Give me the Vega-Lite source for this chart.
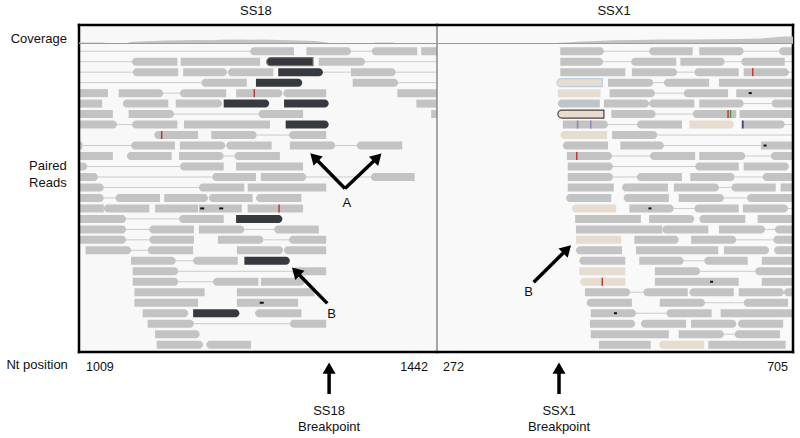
{
"$schema": "https://vega.github.io/schema/vega-lite/v6.json",
"width": 800, "height": 438,
"autosize": {"type": "fit", "contains": "padding"},
"padding": 0,
"background": "white",
"config": {"view": {"stroke": null}, "font": "Liberation Sans", "axis": {"disable": true}, "scale": {"continuousPadding": 0}},
"datasets": {
"readsL": [
{"row":0,"s":1216,"e":1269,"d":"L","c":"g"},{"row":0,"s":1284,"e":1338,"d":"R","c":"g"},{"row":0,"s":1363,"e":1418,"d":"L","c":"g"},{"row":0,"s":1423,"e":1442,"d":"N","c":"g"},
{"row":1,"s":1073,"e":1128,"d":"L","c":"g"},{"row":1,"s":1132,"e":1228,"d":"N","c":"g"},{"row":1,"s":1236,"e":1292,"d":"L","c":"do"},{"row":1,"s":1299,"e":1355,"d":"R","c":"g"},
{"row":2,"s":1074,"e":1129,"d":"L","c":"g"},{"row":2,"s":1135,"e":1188,"d":"R","c":"g"},{"row":2,"s":1189,"e":1244,"d":"L","c":"g"},{"row":2,"s":1250,"e":1304,"d":"R","c":"d"},{"row":2,"s":1338,"e":1392,"d":"R","c":"g"},
{"row":3,"s":1157,"e":1212,"d":"L","c":"g"},{"row":3,"s":1223,"e":1279,"d":"R","c":"d"},{"row":3,"s":1340,"e":1395,"d":"R","c":"g"},
{"row":4,"s":1009,"e":1044,"d":"N","c":"g"},{"row":4,"s":1057,"e":1111,"d":"R","c":"g"},{"row":4,"s":1131,"e":1187,"d":"L","c":"g"},{"row":4,"s":1199,"e":1255,"d":"R","c":"g"},{"row":4,"s":1256,"e":1308,"d":"L","c":"g"},{"row":4,"s":1394,"e":1442,"d":"N","c":"g"},
{"row":5,"s":1009,"e":1037,"d":"N","c":"g"},{"row":5,"s":1062,"e":1117,"d":"L","c":"g"},{"row":5,"s":1126,"e":1182,"d":"R","c":"g"},{"row":5,"s":1184,"e":1239,"d":"R","c":"d"},{"row":5,"s":1257,"e":1311,"d":"R","c":"d"},{"row":5,"s":1417,"e":1442,"d":"N","c":"g"},
{"row":6,"s":1009,"e":1050,"d":"N","c":"g"},{"row":6,"s":1069,"e":1124,"d":"R","c":"g"},{"row":6,"s":1226,"e":1280,"d":"L","c":"g"},{"row":6,"s":1435,"e":1442,"d":"N","c":"g"},
{"row":7,"s":1009,"e":1055,"d":"R","c":"g"},{"row":7,"s":1073,"e":1128,"d":"L","c":"g"},{"row":7,"s":1136,"e":1240,"d":"N","c":"g"},{"row":7,"s":1259,"e":1311,"d":"R","c":"d"},
{"row":8,"s":1100,"e":1153,"d":"L","c":"g"},{"row":8,"s":1169,"e":1224,"d":"R","c":"g"},{"row":8,"s":1263,"e":1308,"d":"L","c":"g"},
{"row":9,"s":1009,"e":1013,"d":"R","c":"g"},{"row":9,"s":1072,"e":1125,"d":"L","c":"g"},{"row":9,"s":1131,"e":1186,"d":"R","c":"g"},{"row":9,"s":1187,"e":1242,"d":"L","c":"g"},{"row":9,"s":1264,"e":1319,"d":"R","c":"g"},{"row":9,"s":1345,"e":1400,"d":"L","c":"g"},
{"row":10,"s":1009,"e":1050,"d":"N","c":"g"},{"row":10,"s":1067,"e":1121,"d":"L","c":"g"},{"row":10,"s":1130,"e":1184,"d":"R","c":"g"},{"row":10,"s":1197,"e":1252,"d":"L","c":"g"},
{"row":11,"s":1009,"e":1019,"d":"R","c":"g"},{"row":11,"s":1131,"e":1184,"d":"L","c":"g"},{"row":11,"s":1199,"e":1280,"d":"N","c":"g"},
{"row":12,"s":1009,"e":1032,"d":"R","c":"g"},{"row":12,"s":1170,"e":1223,"d":"L","c":"g"},{"row":12,"s":1229,"e":1284,"d":"R","c":"g"},{"row":12,"s":1362,"e":1415,"d":"L","c":"g"},
{"row":13,"s":1009,"e":1039,"d":"R","c":"g"},{"row":13,"s":1154,"e":1209,"d":"L","c":"g"},{"row":13,"s":1213,"e":1308,"d":"N","c":"g"},
{"row":14,"s":1009,"e":1039,"d":"R","c":"g"},{"row":14,"s":1053,"e":1107,"d":"L","c":"g"},{"row":14,"s":1112,"e":1165,"d":"R","c":"g"},{"row":14,"s":1166,"e":1219,"d":"L","c":"g"},{"row":14,"s":1223,"e":1278,"d":"L","c":"g"},
{"row":15,"s":1009,"e":1039,"d":"N","c":"g"},{"row":15,"s":1039,"e":1094,"d":"L","c":"g"},{"row":15,"s":1101,"e":1153,"d":"N","c":"g"},{"row":15,"s":1154,"e":1206,"d":"N","c":"g"},{"row":15,"s":1213,"e":1280,"d":"N","c":"g"},
{"row":16,"s":1009,"e":1066,"d":"R","c":"g"},{"row":16,"s":1130,"e":1184,"d":"L","c":"g"},{"row":16,"s":1199,"e":1255,"d":"R","c":"d"},
{"row":17,"s":1009,"e":1066,"d":"R","c":"g"},{"row":17,"s":1094,"e":1148,"d":"L","c":"g"},{"row":17,"s":1154,"e":1209,"d":"R","c":"g"},{"row":17,"s":1245,"e":1299,"d":"L","c":"g"},
{"row":18,"s":1009,"e":1066,"d":"R","c":"g"},{"row":18,"s":1094,"e":1148,"d":"L","c":"g"},{"row":18,"s":1177,"e":1232,"d":"R","c":"g"},{"row":18,"s":1263,"e":1308,"d":"L","c":"g"},
{"row":19,"s":1017,"e":1072,"d":"R","c":"g"},{"row":19,"s":1092,"e":1147,"d":"L","c":"g"},{"row":19,"s":1200,"e":1256,"d":"R","c":"g"},{"row":19,"s":1257,"e":1308,"d":"L","c":"g"},
{"row":20,"s":1072,"e":1126,"d":"R","c":"g"},{"row":20,"s":1147,"e":1201,"d":"L","c":"g"},{"row":20,"s":1209,"e":1264,"d":"R","c":"d"},
{"row":21,"s":1074,"e":1129,"d":"R","c":"g"},{"row":21,"s":1267,"e":1308,"d":"L","c":"g"},
{"row":22,"s":1074,"e":1129,"d":"R","c":"g"},{"row":22,"s":1171,"e":1226,"d":"L","c":"g"},{"row":22,"s":1229,"e":1282,"d":"R","c":"g"},
{"row":23,"s":1076,"e":1161,"d":"N","c":"g"},{"row":23,"s":1200,"e":1294,"d":"N","c":"g"},
{"row":24,"s":1076,"e":1153,"d":"N","c":"g"},{"row":24,"s":1200,"e":1274,"d":"N","c":"g"},
{"row":25,"s":1086,"e":1141,"d":"R","c":"g"},{"row":25,"s":1147,"e":1203,"d":"R","c":"d"},{"row":25,"s":1222,"e":1278,"d":"L","c":"g"},
{"row":26,"s":1092,"e":1148,"d":"R","c":"g"},{"row":26,"s":1264,"e":1308,"d":"L","c":"g"},
{"row":27,"s":1101,"e":1155,"d":"R","c":"g"},
{"row":28,"s":1103,"e":1159,"d":"R","c":"g"},{"row":28,"s":1163,"e":1217,"d":"L","c":"g"}
],
"linesL": [
{"row":0,"s":1009,"e":1216},{"row":0,"s":1338,"e":1363},{"row":1,"s":1009,"e":1073},{"row":1,"s":1355,"e":1442},
{"row":2,"s":1009,"e":1074},{"row":2,"s":1304,"e":1338},{"row":2,"s":1392,"e":1442},{"row":3,"s":1009,"e":1157},{"row":3,"s":1395,"e":1442},
{"row":4,"s":1111,"e":1131},{"row":6,"s":1124,"e":1226},{"row":7,"s":1055,"e":1073},{"row":8,"s":1224,"e":1263},
{"row":9,"s":1013,"e":1072},{"row":9,"s":1319,"e":1345},{"row":10,"s":1184,"e":1197},{"row":11,"s":1019,"e":1131},
{"row":12,"s":1032,"e":1170},{"row":12,"s":1284,"e":1362},{"row":13,"s":1039,"e":1154},{"row":14,"s":1039,"e":1053},
{"row":16,"s":1066,"e":1130},{"row":17,"s":1066,"e":1094},{"row":17,"s":1209,"e":1245},{"row":18,"s":1066,"e":1094},{"row":18,"s":1232,"e":1263},
{"row":19,"s":1072,"e":1092},{"row":20,"s":1126,"e":1147},{"row":21,"s":1129,"e":1267},{"row":22,"s":1129,"e":1171},{"row":26,"s":1148,"e":1264}
],
"mmL": [
{"row":4,"s":1221,"m":"r"},{"row":8,"s":1109,"m":"r"},{"row":15,"s":1158,"m":"k"},{"row":15,"s":1181,"m":"k"},{"row":15,"s":1251,"m":"r"},{"row":24,"s":1230,"m":"k"}
],
"readsR": [
{"row":0,"s":422,"e":475,"d":"R","c":"g"},{"row":0,"s":530,"e":583,"d":"L","c":"g"},{"row":0,"s":591,"e":645,"d":"R","c":"g"},{"row":0,"s":688,"e":705,"d":"L","c":"g"},
{"row":1,"s":422,"e":474,"d":"R","c":"g"},{"row":1,"s":508,"e":563,"d":"L","c":"g"},{"row":1,"s":568,"e":622,"d":"R","c":"g"},{"row":1,"s":642,"e":695,"d":"L","c":"g"},
{"row":2,"s":422,"e":501,"d":"N","c":"g"},{"row":2,"s":509,"e":564,"d":"R","c":"g"},{"row":2,"s":585,"e":639,"d":"L","c":"g"},{"row":2,"s":645,"e":700,"d":"R","c":"g"},
{"row":3,"s":418,"e":473,"d":"L","c":"bs"},{"row":3,"s":480,"e":535,"d":"R","c":"g"},{"row":3,"s":548,"e":603,"d":"L","c":"g"},{"row":3,"s":615,"e":705,"d":"N","c":"g"},
{"row":4,"s":419,"e":471,"d":"N","c":"b"},{"row":4,"s":482,"e":537,"d":"R","c":"g"},{"row":4,"s":572,"e":626,"d":"L","c":"g"},{"row":4,"s":636,"e":705,"d":"N","c":"g"},
{"row":5,"s":419,"e":470,"d":"L","c":"s"},{"row":5,"s":475,"e":530,"d":"R","c":"g"},{"row":5,"s":530,"e":585,"d":"L","c":"g"},{"row":5,"s":591,"e":645,"d":"R","c":"g"},{"row":5,"s":679,"e":705,"d":"L","c":"g"},
{"row":6,"s":419,"e":475,"d":"L","c":"bo"},{"row":6,"s":484,"e":538,"d":"R","c":"g"},{"row":6,"s":583,"e":636,"d":"L","c":"g"},{"row":6,"s":640,"e":705,"d":"N","c":"g"},
{"row":7,"s":425,"e":480,"d":"R","c":"g"},{"row":7,"s":515,"e":570,"d":"L","c":"g"},{"row":7,"s":579,"e":633,"d":"R","c":"b"},{"row":7,"s":642,"e":695,"d":"R","c":"g"},
{"row":8,"s":422,"e":479,"d":"L","c":"b"},{"row":8,"s":485,"e":540,"d":"R","c":"g"},
{"row":9,"s":425,"e":480,"d":"L","c":"g"},{"row":9,"s":495,"e":548,"d":"R","c":"g"},{"row":9,"s":666,"e":705,"d":"N","c":"g"},
{"row":10,"s":430,"e":485,"d":"R","c":"g"},{"row":10,"s":531,"e":586,"d":"L","c":"g"},{"row":10,"s":591,"e":647,"d":"R","c":"g"},{"row":10,"s":678,"e":705,"d":"L","c":"g"},
{"row":11,"s":431,"e":486,"d":"R","c":"g"},{"row":11,"s":586,"e":639,"d":"L","c":"g"},{"row":11,"s":645,"e":700,"d":"R","c":"g"},
{"row":12,"s":431,"e":486,"d":"R","c":"g"},{"row":12,"s":515,"e":570,"d":"L","c":"g"},{"row":12,"s":580,"e":634,"d":"R","c":"g"},{"row":12,"s":668,"e":705,"d":"L","c":"g"},
{"row":13,"s":431,"e":487,"d":"N","c":"g"},{"row":13,"s":497,"e":553,"d":"L","c":"g"},{"row":13,"s":560,"e":615,"d":"R","c":"g"},{"row":13,"s":630,"e":684,"d":"L","c":"g"},{"row":13,"s":690,"e":705,"d":"N","c":"g"},
{"row":14,"s":429,"e":484,"d":"L","c":"s"},{"row":14,"s":499,"e":554,"d":"L","c":"g"},{"row":14,"s":566,"e":621,"d":"R","c":"g"},{"row":14,"s":649,"e":705,"d":"L","c":"g"},
{"row":15,"s":436,"e":490,"d":"L","c":"b"},{"row":15,"s":506,"e":560,"d":"R","c":"g"},{"row":15,"s":585,"e":639,"d":"L","c":"g"},{"row":15,"s":644,"e":699,"d":"R","c":"g"},
{"row":16,"s":440,"e":520,"d":"N","c":"g"},{"row":16,"s":530,"e":585,"d":"R","c":"g"},{"row":16,"s":591,"e":647,"d":"L","c":"g"},{"row":16,"s":662,"e":705,"d":"N","c":"g"},
{"row":17,"s":441,"e":546,"d":"N","c":"g"},{"row":17,"s":546,"e":602,"d":"L","c":"g"},{"row":17,"s":615,"e":671,"d":"R","c":"g"},{"row":17,"s":683,"e":705,"d":"L","c":"g"},
{"row":18,"s":441,"e":496,"d":"N","c":"b"},{"row":18,"s":512,"e":566,"d":"R","c":"g"},{"row":18,"s":581,"e":636,"d":"R","c":"g"},{"row":18,"s":681,"e":705,"d":"L","c":"g"},
{"row":19,"s":441,"e":497,"d":"L","c":"g"},{"row":19,"s":514,"e":614,"d":"N","c":"g"},{"row":19,"s":621,"e":676,"d":"R","c":"g"},{"row":19,"s":682,"e":705,"d":"L","c":"g"},
{"row":20,"s":445,"e":501,"d":"L","c":"g"},{"row":20,"s":518,"e":572,"d":"R","c":"g"},{"row":20,"s":597,"e":650,"d":"L","c":"g"},{"row":20,"s":667,"e":705,"d":"N","c":"g"},
{"row":21,"s":445,"e":501,"d":"N","c":"b"},{"row":21,"s":537,"e":592,"d":"R","c":"g"},{"row":21,"s":659,"e":705,"d":"L","c":"g"},
{"row":22,"s":446,"e":501,"d":"L","c":"b"},{"row":22,"s":537,"e":639,"d":"N","c":"g"},{"row":22,"s":667,"e":705,"d":"N","c":"g"},
{"row":23,"s":452,"e":507,"d":"R","c":"g"},{"row":23,"s":523,"e":577,"d":"L","c":"g"},{"row":23,"s":579,"e":633,"d":"L","c":"g"},{"row":23,"s":639,"e":694,"d":"R","c":"g"},{"row":23,"s":694,"e":705,"d":"L","c":"g"},
{"row":24,"s":454,"e":509,"d":"L","c":"g"},{"row":24,"s":543,"e":598,"d":"R","c":"g"},{"row":24,"s":645,"e":699,"d":"L","c":"g"},
{"row":25,"s":459,"e":514,"d":"R","c":"g"},{"row":25,"s":551,"e":606,"d":"L","c":"g"},{"row":25,"s":617,"e":705,"d":"N","c":"g"},
{"row":26,"s":458,"e":513,"d":"R","c":"g"},{"row":26,"s":520,"e":575,"d":"L","c":"g"},{"row":26,"s":581,"e":636,"d":"R","c":"g"},{"row":26,"s":638,"e":693,"d":"L","c":"g"},
{"row":27,"s":459,"e":554,"d":"N","c":"g"},{"row":27,"s":566,"e":621,"d":"R","c":"g"},{"row":27,"s":634,"e":689,"d":"L","c":"g"},
{"row":28,"s":469,"e":532,"d":"N","c":"g"},{"row":28,"s":542,"e":597,"d":"L","c":"b"},{"row":28,"s":602,"e":696,"d":"N","c":"g"}
],
"linesR": [
{"row":0,"s":475,"e":530},{"row":0,"s":645,"e":688},{"row":1,"s":474,"e":508},{"row":1,"s":622,"e":642},{"row":1,"s":695,"e":705},
{"row":2,"s":564,"e":585},{"row":2,"s":700,"e":705},{"row":3,"s":535,"e":548},{"row":4,"s":537,"e":572},{"row":5,"s":645,"e":679},
{"row":6,"s":538,"e":583},{"row":7,"s":480,"e":515},{"row":7,"s":695,"e":705},{"row":8,"s":540,"e":705},{"row":9,"s":548,"e":666},
{"row":10,"s":485,"e":531},{"row":10,"s":647,"e":678},{"row":11,"s":486,"e":586},{"row":12,"s":486,"e":515},{"row":12,"s":634,"e":668},
{"row":13,"s":615,"e":630},{"row":14,"s":621,"e":649},{"row":15,"s":560,"e":585},{"row":15,"s":699,"e":705},{"row":17,"s":671,"e":683},
{"row":18,"s":636,"e":681},{"row":20,"s":572,"e":597},{"row":21,"s":592,"e":659},{"row":23,"s":507,"e":523},{"row":24,"s":598,"e":645},
{"row":25,"s":514,"e":551},{"row":27,"s":621,"e":634}
],
"mmR": [
{"row":2,"s":656,"m":"r"},{"row":4,"s":653,"m":"k"},{"row":6,"s":626,"m":"r"},{"row":6,"s":629,"m":"gr"},{"row":7,"s":443,"m":"p"},{"row":7,"s":459,"m":"p"},{"row":7,"s":644,"m":"pd"},
{"row":9,"s":671,"m":"k"},{"row":10,"s":442,"m":"r"},{"row":15,"s":531,"m":"k"},{"row":22,"s":473,"m":"r"},{"row":22,"s":606,"m":"k"},{"row":25,"s":489,"m":"k"}
],
"covL": [
{"s":1009,"v":5},{"s":1025,"v":6},{"s":1038,"v":5},{"s":1044,"v":1},{"s":1066,"v":1},{"s":1071,"v":8},{"s":1089,"v":12},{"s":1100,"v":14},{"s":1113,"v":16},{"s":1135,"v":17},{"s":1155,"v":19},{"s":1170,"v":18},{"s":1180,"v":20},{"s":1204,"v":21},{"s":1218,"v":20},{"s":1230,"v":21},{"s":1252,"v":19},{"s":1265,"v":18},{"s":1276,"v":16},{"s":1294,"v":13},{"s":1305,"v":8},{"s":1312,"v":3},{"s":1319,"v":0},{"s":1363,"v":0},{"s":1367,"v":5},{"s":1389,"v":5},{"s":1392,"v":0},{"s":1442,"v":0}
],
"covR": [
{"s":272,"v":0},{"s":417,"v":0},{"s":420,"v":4},{"s":430,"v":6},{"s":446,"v":11},{"s":466,"v":14},{"s":486,"v":17},{"s":510,"v":19},{"s":530,"v":20},{"s":543,"v":21},{"s":575,"v":22},{"s":590,"v":21},{"s":608,"v":23},{"s":640,"v":25},{"s":665,"v":27},{"s":680,"v":32},{"s":689,"v":36},{"s":697,"v":38},{"s":705,"v":38}
]
},
"layer": [
{
"encoding": {
"x": {"field": "s", "type": "quantitative", "axis": null, "scale": {"domain": [1009, 1442], "range": [79, 437], "nice": false, "zero": false, "padding": 0}},
"y": {"field": "row", "type": "quantitative", "axis": null, "scale": {"domain": [-2.5, 28.7], "range": [25, 352], "nice": false, "zero": false, "padding": 0}}
},
"layer": [
{"data": {"values": [{"s": 1009, "e": 1442, "row": -2.5, "row2": 28.7}]}, "mark": {"type": "rect", "fill": "#f8f8f8"}, "encoding": {"x2": {"field": "e"}, "y2": {"field": "row2"}}},
{"data": {"name": "linesL"}, "mark": {"type": "rule", "color": "#cbcbcb", "strokeWidth": 1}, "encoding": {"x2": {"field": "e"}}},
{"data": {"name": "readsL"}, "transform": [{"filter": "datum.d == 'N'"}], "mark": {"type": "bar", "orient": "horizontal", "size": 8, "strokeWidth": 1.2},
 "encoding": {"x2": {"field": "e"}, "fill": {"field": "c", "type": "nominal", "legend": null, "scale": {"domain": ["g","d","do","b","bs","bo","s"], "range": ["#c3c3c3","#363a40","#363a40","#e6ddd0","#e6ddd0","#e6ddd0","#c0c4c9"]}}, "stroke": {"field": "c", "type": "nominal", "legend": null, "scale": {"domain": ["g","d","do","b","bs","bo","s"], "range": ["transparent","transparent","#8c6d4f","transparent","#b9cde0","#4e4036","transparent"]}}}},
{"data": {"name": "readsL"}, "transform": [{"filter": "datum.d == 'R'"}], "mark": {"type": "bar", "orient": "horizontal", "size": 8, "strokeWidth": 1.2, "cornerRadiusTopRight": 4, "cornerRadiusBottomRight": 4},
 "encoding": {"x2": {"field": "e"}, "fill": {"field": "c", "type": "nominal", "legend": null}, "stroke": {"field": "c", "type": "nominal", "legend": null}}},
{"data": {"name": "readsL"}, "transform": [{"filter": "datum.d == 'L'"}], "mark": {"type": "bar", "orient": "horizontal", "size": 8, "strokeWidth": 1.2, "cornerRadiusTopLeft": 4, "cornerRadiusBottomLeft": 4},
 "encoding": {"x2": {"field": "e"}, "fill": {"field": "c", "type": "nominal", "legend": null}, "stroke": {"field": "c", "type": "nominal", "legend": null}}},
{"data": {"name": "mmL"}, "transform": [{"filter": "datum.m != 'k'"}], "mark": {"type": "tick", "orient": "vertical", "size": 8, "thickness": 1.5, "opacity": 1},
 "encoding": {"color": {"field": "m", "type": "nominal", "legend": null, "scale": {"domain": ["r","p","pd","gr"], "range": ["#c8372d","#8f7fc4","#4b2d7f","#4f9a4f"]}}}},
{"data": {"name": "mmL"}, "transform": [{"filter": "datum.m == 'k'"}], "mark": {"type": "tick", "orient": "horizontal", "size": 4, "thickness": 2, "color": "#111111", "opacity": 1}},
{"data": {"values": [{"s": 1009, "e": 1442, "row": -2.5, "row2": -2.5}, {"s": 1009, "e": 1442, "row": 28.7, "row2": 28.7}, {"s": 1009, "e": 1009, "row": -2.5, "row2": 28.7}]},
 "mark": {"type": "rule", "color": "#000000", "strokeWidth": 2.5, "strokeCap": "square"}, "encoding": {"x2": {"field": "e"}, "y2": {"field": "row2"}}},
{"data": {"values": [{"s": 1330.7, "row": 13.1, "e": 1293.5, "row2": 10.11, "ang": -45}, {"s": 1330.7, "row": 13.1, "e": 1370.0, "row2": 10.14, "ang": 45}, {"s": 1309.3, "row": 24.06, "e": 1271.4, "row2": 21.02, "ang": -45}, {"s": 1311.5, "row": 32.71, "e": 1311.5, "row2": 30.23, "ang": 0}]},
 "layer": [
  {"mark": {"type": "rule", "color": "#000000", "strokeWidth": 3.5}, "encoding": {"x2": {"field": "e"}, "y2": {"field": "row2"}}},
  {"mark": {"type": "point", "shape": "M0,-0.86L1,0.86L-1,0.86Z", "size": 169, "filled": true, "color": "#000000", "opacity": 1},
   "encoding": {"x": {"field": "e", "type": "quantitative", "axis": null, "scale": {"domain": [1009, 1442], "range": [79, 437], "nice": false, "zero": false, "padding": 0}},
    "y": {"field": "row2", "type": "quantitative", "axis": null, "scale": {"domain": [-2.5, 28.7], "range": [25, 352], "nice": false, "zero": false, "padding": 0}},
    "angle": {"field": "ang", "type": "quantitative", "scale": null}}}
 ]},
{"data": {"values": [{"s": 1223, "row": -3.88, "t": "SS18"}, {"s": 1333, "row": 14.48, "t": "A"}, {"s": 1314.6, "row": 25.08, "t": "B"}, {"s": 1311.5, "row": 34.33, "t": "SS18"}, {"s": 1311.5, "row": 35.86, "t": "Breakpoint"}]},
 "mark": {"type": "text", "align": "center", "baseline": "middle", "fontSize": 13, "color": "#111111"}, "encoding": {"text": {"field": "t"}}},
{"data": {"values": [{"s": 994.5, "row": -1.12, "t": "Coverage"}, {"s": 994.1, "row": 11.0, "t": "Paired"}, {"s": 994.1, "row": 12.6, "t": "Reads"}, {"s": 995.5, "row": 29.94, "t": "Nt position"}]},
 "mark": {"type": "text", "align": "right", "baseline": "middle", "fontSize": 13, "color": "#111111"}, "encoding": {"text": {"field": "t"}}},
{"data": {"values": [{"s": 1009, "row": 30.1, "t": "1009"}]}, "mark": {"type": "text", "align": "left", "dx": 7, "baseline": "middle", "fontSize": 12.5, "color": "#111111"}, "encoding": {"text": {"field": "t"}}},
{"data": {"values": [{"s": 1442, "row": 30.1, "t": "1442"}]}, "mark": {"type": "text", "align": "right", "dx": -9, "baseline": "middle", "fontSize": 12.5, "color": "#111111"}, "encoding": {"text": {"field": "t"}}}
]
},
{
"encoding": {
"x": {"field": "s", "type": "quantitative", "axis": null, "scale": {"domain": [272, 705], "range": [437, 793], "nice": false, "zero": false, "padding": 0}},
"y": {"field": "row", "type": "quantitative", "axis": null, "scale": {"domain": [-2.5, 28.7], "range": [25, 352], "nice": false, "zero": false, "padding": 0}}
},
"layer": [
{"data": {"values": [{"s": 272, "e": 705, "row": -2.5, "row2": 28.7}]}, "mark": {"type": "rect", "fill": "#f9f9f9"}, "encoding": {"x2": {"field": "e"}, "y2": {"field": "row2"}}},
{"data": {"name": "linesR"}, "mark": {"type": "rule", "color": "#cbcbcb", "strokeWidth": 1}, "encoding": {"x2": {"field": "e"}}},
{"data": {"name": "readsR"}, "transform": [{"filter": "datum.d == 'N'"}], "mark": {"type": "bar", "orient": "horizontal", "size": 8, "strokeWidth": 1.2},
 "encoding": {"x2": {"field": "e"}, "fill": {"field": "c", "type": "nominal", "legend": null}, "stroke": {"field": "c", "type": "nominal", "legend": null}}},
{"data": {"name": "readsR"}, "transform": [{"filter": "datum.d == 'R'"}], "mark": {"type": "bar", "orient": "horizontal", "size": 8, "strokeWidth": 1.2, "cornerRadiusTopRight": 4, "cornerRadiusBottomRight": 4},
 "encoding": {"x2": {"field": "e"}, "fill": {"field": "c", "type": "nominal", "legend": null}, "stroke": {"field": "c", "type": "nominal", "legend": null}}},
{"data": {"name": "readsR"}, "transform": [{"filter": "datum.d == 'L'"}], "mark": {"type": "bar", "orient": "horizontal", "size": 8, "strokeWidth": 1.2, "cornerRadiusTopLeft": 4, "cornerRadiusBottomLeft": 4},
 "encoding": {"x2": {"field": "e"}, "fill": {"field": "c", "type": "nominal", "legend": null}, "stroke": {"field": "c", "type": "nominal", "legend": null}}},
{"data": {"name": "mmR"}, "transform": [{"filter": "datum.m != 'k'"}], "mark": {"type": "tick", "orient": "vertical", "size": 8, "thickness": 1.5, "opacity": 1},
 "encoding": {"color": {"field": "m", "type": "nominal", "legend": null}}},
{"data": {"name": "mmR"}, "transform": [{"filter": "datum.m == 'k'"}], "mark": {"type": "tick", "orient": "horizontal", "size": 3, "thickness": 2, "color": "#111111", "opacity": 1}},
{"data": {"values": [{"s": 272, "e": 272, "row": -2.5, "row2": 28.7}]}, "mark": {"type": "rule", "color": "#8a8a8a", "strokeWidth": 1.5}, "encoding": {"x2": {"field": "e"}, "y2": {"field": "row2"}}},
{"data": {"values": [{"s": 272, "e": 705, "row": -2.5, "row2": -2.5}, {"s": 272, "e": 705, "row": 28.7, "row2": 28.7}, {"s": 705, "e": 705, "row": -2.5, "row2": 28.7}]},
 "mark": {"type": "rule", "color": "#000000", "strokeWidth": 2.5, "strokeCap": "square"}, "encoding": {"x2": {"field": "e"}, "y2": {"field": "row2"}}},
{"data": {"values": [{"s": 389.6, "row": 22.05, "e": 430.2, "row2": 18.89, "ang": 45}, {"s": 420.4, "row": 32.71, "e": 420.4, "row2": 30.23, "ang": 0}]},
 "layer": [
  {"mark": {"type": "rule", "color": "#000000", "strokeWidth": 3.5}, "encoding": {"x2": {"field": "e"}, "y2": {"field": "row2"}}},
  {"mark": {"type": "point", "shape": "M0,-0.86L1,0.86L-1,0.86Z", "size": 169, "filled": true, "color": "#000000", "opacity": 1},
   "encoding": {"x": {"field": "e", "type": "quantitative", "axis": null, "scale": {"domain": [272, 705], "range": [437, 793], "nice": false, "zero": false, "padding": 0}},
    "y": {"field": "row2", "type": "quantitative", "axis": null, "scale": {"domain": [-2.5, 28.7], "range": [25, 352], "nice": false, "zero": false, "padding": 0}},
    "angle": {"field": "ang", "type": "quantitative", "scale": null}}}
 ]},
{"data": {"values": [{"s": 487.3, "row": -3.88, "t": "SSX1"}, {"s": 383.5, "row": 22.95, "t": "B"}, {"s": 420.4, "row": 34.33, "t": "SSX1"}, {"s": 420.4, "row": 35.86, "t": "Breakpoint"}]},
 "mark": {"type": "text", "align": "center", "baseline": "middle", "fontSize": 13, "color": "#111111"}, "encoding": {"text": {"field": "t"}}},
{"data": {"values": [{"s": 272, "row": 30.1, "t": "272"}]}, "mark": {"type": "text", "align": "left", "dx": 6, "baseline": "middle", "fontSize": 12.5, "color": "#111111"}, "encoding": {"text": {"field": "t"}}},
{"data": {"values": [{"s": 705, "row": 30.1, "t": "705"}]}, "mark": {"type": "text", "align": "right", "dx": -5, "baseline": "middle", "fontSize": 12.5, "color": "#111111"}, "encoding": {"text": {"field": "t"}}}
]
},
{
"encoding": {
"x": {"field": "s", "type": "quantitative", "axis": null, "scale": {"domain": [1009, 1442], "range": [79, 437], "nice": false, "zero": false, "padding": 0}},
"y": {"field": "v", "type": "quantitative", "axis": null, "scale": {"domain": [0, 100], "range": [43.5, 25], "nice": false, "zero": false, "padding": 0}}
},
"layer": [
{"data": {"name": "covL"}, "mark": {"type": "area", "color": "#c4c4c4", "opacity": 1}, "encoding": {"y2": {"datum": 0}}},
{"data": {"values": [{"s": 1009, "e": 1442, "v": 0}]}, "mark": {"type": "rule", "color": "#9a9a9a", "strokeWidth": 1}, "encoding": {"x2": {"field": "e"}}}
]
},
{
"encoding": {
"x": {"field": "s", "type": "quantitative", "axis": null, "scale": {"domain": [272, 705], "range": [437, 793], "nice": false, "zero": false, "padding": 0}},
"y": {"field": "v", "type": "quantitative", "axis": null, "scale": {"domain": [0, 100], "range": [43.5, 25], "nice": false, "zero": false, "padding": 0}}
},
"layer": [
{"data": {"name": "covR"}, "mark": {"type": "area", "color": "#c4c4c4", "opacity": 1}, "encoding": {"y2": {"datum": 0}}},
{"data": {"values": [{"s": 272, "e": 705, "v": 0}]}, "mark": {"type": "rule", "color": "#9a9a9a", "strokeWidth": 1}, "encoding": {"x2": {"field": "e"}}}
]
}
],
"resolve": {"scale": {"x": "independent", "y": "independent"}}
}
